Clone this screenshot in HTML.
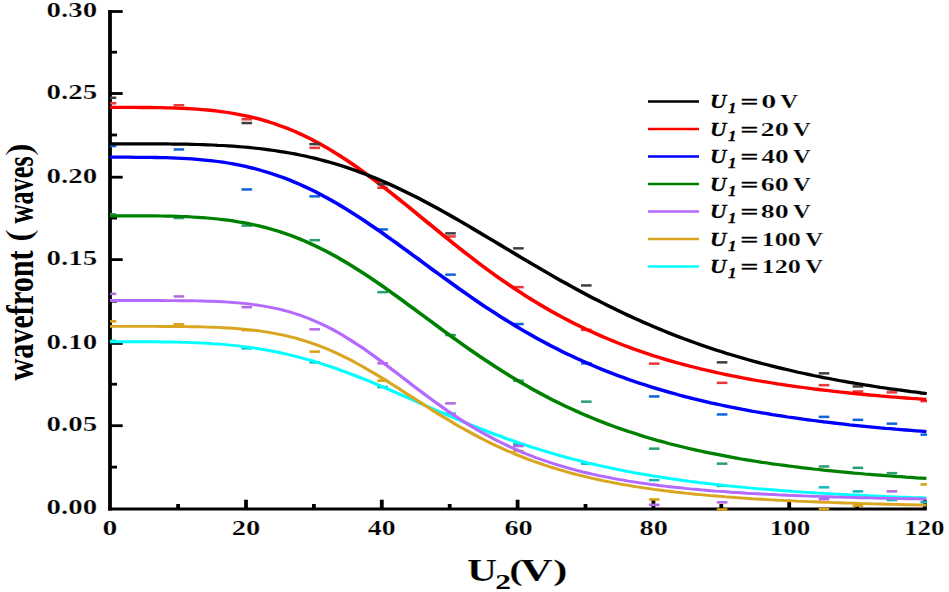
<!DOCTYPE html>
<html><head><meta charset="utf-8"><title>wavefront vs U2</title>
<style>
html,body{margin:0;padding:0;background:#fff;}
body{width:949px;height:592px;overflow:hidden;}
svg{display:block;}
text{font-family:"Liberation Serif","Times New Roman",serif;font-weight:bold;fill:#000;stroke:#fff;stroke-width:0.22px;}
.it{font-style:italic;}
</style></head><body>
<svg width="949" height="592" viewBox="0 0 949 592">
<rect width="949" height="592" fill="#fff"/>
<defs><clipPath id="plot"><rect x="110" y="0" width="817" height="592"/></clipPath></defs>

<g stroke="#000" fill="none"><path d="M110 10 V510.6" stroke-width="3.8"/><path d="M108.1 509.1 H926.8" stroke-width="3"/></g>
<g stroke="#000" stroke-width="3.8" fill="none"><path d="M246.0 509 V499.7"/><path d="M381.8 509 V499.7"/><path d="M517.6 509 V499.7"/><path d="M653.4 509 V499.7"/><path d="M789.2 509 V499.7"/><path d="M924.9 509 V499.7"/><path d="M178.1 509 V504"/><path d="M313.9 509 V504"/><path d="M449.7 509 V504"/><path d="M585.5 509 V504"/><path d="M721.3 509 V504"/><path d="M857.1 509 V504"/></g>
<g stroke="#000" stroke-width="2.8" fill="none" stroke-linecap="butt">
<path d="M110 425.7 H122.7"/>
<path d="M110 343.4 H122.7"/>
<path d="M110 259.6 H122.7"/>
<path d="M110 177.2 H122.7"/>
<path d="M110 93.5 H122.7"/>
<path d="M110 11.5 H122.7"/>
<path d="M110 467.1 H117"/>
<path d="M110 384.2 H117"/>
<path d="M110 301.2 H117"/>
<path d="M110 218.1 H117"/>
<path d="M110 135.0 H117"/>
<path d="M110 52.2 H117"/>
</g>
<g clip-path="url(#plot)">
<g fill="#10b8b8"><rect x="105.7" y="339.6" width="10.6" height="2.5"/><rect x="241.5" y="347.1" width="10.6" height="2.5"/><rect x="309.4" y="361.1" width="10.6" height="2.5"/><rect x="377.3" y="385.8" width="10.6" height="2.5"/><rect x="445.2" y="412.4" width="10.6" height="2.5"/><rect x="513.1" y="442.9" width="10.6" height="2.5"/><rect x="581.0" y="462.4" width="10.6" height="2.5"/><rect x="648.9" y="478.9" width="10.6" height="2.5"/><rect x="716.8" y="484.6" width="10.6" height="2.5"/><rect x="818.7" y="486.1" width="10.6" height="2.5"/><rect x="852.6" y="490.1" width="10.6" height="2.5"/><rect x="886.6" y="498.8" width="10.6" height="2.5"/><rect x="920.5" y="500.9" width="10.6" height="2.5"/></g>
<polyline transform="scale(1.3,1)" fill="none" stroke="#00ffff" stroke-width="2.95" stroke-linejoin="round" points="84.46,341.7 88.41,341.7 92.36,341.7 96.31,341.7 100.26,341.7 104.21,341.7 108.17,341.7 112.12,341.7 116.07,341.8 120.02,341.8 123.97,341.9 127.92,341.9 131.87,342.0 135.82,342.1 139.77,342.3 143.72,342.4 147.67,342.6 151.62,342.8 155.57,343.1 159.52,343.3 163.47,343.7 167.43,344.0 171.38,344.4 175.33,344.9 179.28,345.4 183.23,345.9 187.18,346.6 191.13,347.2 195.08,347.9 199.03,348.7 202.98,349.6 206.93,350.5 210.88,351.5 214.83,352.5 218.78,353.6 222.73,354.8 226.69,356.1 230.64,357.4 234.59,358.8 238.54,360.2 242.49,361.7 246.44,363.3 250.39,365.0 254.34,366.7 258.29,368.4 262.24,370.3 266.19,372.1 270.14,374.1 274.09,376.1 278.04,378.1 281.99,380.1 285.94,382.2 289.90,384.4 293.85,386.5 297.80,388.7 301.75,390.9 305.70,393.2 309.65,395.4 313.60,397.7 317.55,399.9 321.50,402.2 325.45,404.5 329.40,406.7 333.35,409.0 337.30,411.2 341.25,413.4 345.20,415.6 349.16,417.8 353.11,420.0 357.06,422.1 361.01,424.2 364.96,426.3 368.91,428.4 372.86,430.4 376.81,432.4 380.76,434.3 384.71,436.2 388.66,438.1 392.61,439.9 396.56,441.7 400.51,443.5 404.46,445.2 408.42,446.9 412.37,448.5 416.32,450.1 420.27,451.7 424.22,453.2 428.17,454.7 432.12,456.1 436.07,457.5 440.02,458.9 443.97,460.2 447.92,461.5 451.87,462.8 455.82,464.0 459.77,465.2 463.72,466.3 467.67,467.4 471.63,468.5 475.58,469.6 479.53,470.6 483.48,471.6 487.43,472.6 491.38,473.5 495.33,474.4 499.28,475.3 503.23,476.1 507.18,476.9 511.13,477.7 515.08,478.5 519.03,479.3 522.98,480.0 526.93,480.7 530.89,481.4 534.84,482.0 538.79,482.7 542.74,483.3 546.69,483.9 550.64,484.5 554.59,485.0 558.54,485.6 562.49,486.1 566.44,486.6 570.39,487.1 574.34,487.6 578.29,488.1 582.24,488.6 586.19,489.0 590.15,489.4 594.10,489.8 598.05,490.2 602.00,490.6 605.95,491.0 609.90,491.4 613.85,491.7 617.80,492.1 621.75,492.4 625.70,492.8 629.65,493.1 633.60,493.4 637.55,493.7 641.50,494.0 645.45,494.2 649.40,494.5 653.36,494.8 657.31,495.0 661.26,495.3 665.21,495.5 669.16,495.8 673.11,496.0 677.06,496.2 681.01,496.5 684.96,496.7 688.91,496.9 692.86,497.1 696.81,497.3 700.76,497.5 704.71,497.6 708.66,497.8 712.62,498.0"/>
<g fill="#d8a010"><rect x="105.7" y="320.1" width="10.6" height="2.5"/><rect x="173.6" y="323.1" width="10.6" height="2.5"/><rect x="241.5" y="328.9" width="10.6" height="2.5"/><rect x="309.4" y="350.4" width="10.6" height="2.5"/><rect x="377.3" y="379.4" width="10.6" height="2.5"/><rect x="513.1" y="449.8" width="10.6" height="2.5"/><rect x="648.9" y="498.2" width="10.6" height="2.5"/><rect x="716.8" y="508.2" width="10.6" height="2.5"/><rect x="818.7" y="507.9" width="10.6" height="2.5"/><rect x="852.6" y="504.4" width="10.6" height="2.5"/><rect x="920.5" y="483.2" width="10.6" height="2.5"/></g>
<polyline transform="scale(1.3,1)" fill="none" stroke="#daa520" stroke-width="2.9" stroke-linejoin="round" points="84.46,326.4 88.41,326.4 92.36,326.4 96.31,326.4 100.26,326.4 104.21,326.4 108.17,326.4 112.12,326.4 116.07,326.4 120.02,326.4 123.97,326.5 127.92,326.5 131.87,326.5 135.82,326.5 139.77,326.6 143.72,326.6 147.67,326.7 151.62,326.8 155.57,326.9 159.52,327.1 163.47,327.2 167.43,327.4 171.38,327.7 175.33,328.0 179.28,328.3 183.23,328.7 187.18,329.1 191.13,329.6 195.08,330.2 199.03,330.8 202.98,331.6 206.93,332.4 210.88,333.3 214.83,334.3 218.78,335.4 222.73,336.6 226.69,337.9 230.64,339.3 234.59,340.9 238.54,342.6 242.49,344.4 246.44,346.3 250.39,348.3 254.34,350.5 258.29,352.8 262.24,355.2 266.19,357.7 270.14,360.3 274.09,363.1 278.04,365.9 281.99,368.8 285.94,371.8 289.90,374.9 293.85,378.0 297.80,381.2 301.75,384.5 305.70,387.7 309.65,391.0 313.60,394.3 317.55,397.6 321.50,400.9 325.45,404.2 329.40,407.5 333.35,410.8 337.30,414.0 341.25,417.1 345.20,420.2 349.16,423.3 353.11,426.3 357.06,429.2 361.01,432.0 364.96,434.8 368.91,437.5 372.86,440.1 376.81,442.7 380.76,445.2 384.71,447.6 388.66,449.9 392.61,452.1 396.56,454.3 400.51,456.4 404.46,458.4 408.42,460.3 412.37,462.2 416.32,463.9 420.27,465.7 424.22,467.3 428.17,468.9 432.12,470.4 436.07,471.9 440.02,473.3 443.97,474.7 447.92,475.9 451.87,477.2 455.82,478.4 459.77,479.5 463.72,480.6 467.67,481.7 471.63,482.7 475.58,483.6 479.53,484.6 483.48,485.4 487.43,486.3 491.38,487.1 495.33,487.9 499.28,488.6 503.23,489.4 507.18,490.0 511.13,490.7 515.08,491.3 519.03,492.0 522.98,492.5 526.93,493.1 530.89,493.6 534.84,494.2 538.79,494.6 542.74,495.1 546.69,495.6 550.64,496.0 554.59,496.4 558.54,496.9 562.49,497.2 566.44,497.6 570.39,498.0 574.34,498.3 578.29,498.7 582.24,499.0 586.19,499.3 590.15,499.6 594.10,499.9 598.05,500.2 602.00,500.4 605.95,500.7 609.90,500.9 613.85,501.2 617.80,501.4 621.75,501.6 625.70,501.8 629.65,502.0 633.60,502.2 637.55,502.4 641.50,502.6 645.45,502.8 649.40,503.0 653.36,503.1 657.31,503.3 661.26,503.5 665.21,503.6 669.16,503.8 673.11,503.9 677.06,504.0 681.01,504.2 684.96,504.3 688.91,504.4 692.86,504.5 696.81,504.7 700.76,504.8 704.71,504.9 708.66,505.0 712.62,505.1"/>
<g fill="#b26ae2"><rect x="105.7" y="292.6" width="10.6" height="2.5"/><rect x="173.6" y="295.2" width="10.6" height="2.5"/><rect x="241.5" y="305.9" width="10.6" height="2.5"/><rect x="309.4" y="328.1" width="10.6" height="2.5"/><rect x="377.3" y="362.1" width="10.6" height="2.5"/><rect x="445.2" y="402.1" width="10.6" height="2.5"/><rect x="513.1" y="444.8" width="10.6" height="2.5"/><rect x="648.9" y="503.6" width="10.6" height="2.5"/><rect x="716.8" y="501.1" width="10.6" height="2.5"/><rect x="818.7" y="497.9" width="10.6" height="2.5"/><rect x="886.6" y="490.1" width="10.6" height="2.5"/></g>
<polyline transform="scale(1.3,1)" fill="none" stroke="#b469ff" stroke-width="2.9" stroke-linejoin="round" points="84.46,300.5 88.41,300.5 92.36,300.5 96.31,300.5 100.26,300.5 104.21,300.5 108.17,300.5 112.12,300.5 116.07,300.5 120.02,300.5 123.97,300.5 127.92,300.6 131.87,300.6 135.82,300.6 139.77,300.7 143.72,300.7 147.67,300.8 151.62,300.9 155.57,301.0 159.52,301.2 163.47,301.3 167.43,301.5 171.38,301.8 175.33,302.1 179.28,302.5 183.23,302.9 187.18,303.4 191.13,303.9 195.08,304.6 199.03,305.3 202.98,306.1 206.93,307.1 210.88,308.1 214.83,309.2 218.78,310.5 222.73,311.9 226.69,313.5 230.64,315.2 234.59,317.0 238.54,319.0 242.49,321.2 246.44,323.5 250.39,325.9 254.34,328.5 258.29,331.3 262.24,334.2 266.19,337.3 270.14,340.5 274.09,343.8 278.04,347.2 281.99,350.7 285.94,354.4 289.90,358.1 293.85,361.9 297.80,365.7 301.75,369.6 305.70,373.5 309.65,377.5 313.60,381.4 317.55,385.4 321.50,389.3 325.45,393.1 329.40,397.0 333.35,400.7 337.30,404.4 341.25,408.1 345.20,411.7 349.16,415.1 353.11,418.5 357.06,421.8 361.01,425.0 364.96,428.1 368.91,431.1 372.86,434.0 376.81,436.8 380.76,439.5 384.71,442.1 388.66,444.6 392.61,447.0 396.56,449.3 400.51,451.6 404.46,453.7 408.42,455.7 412.37,457.7 416.32,459.5 420.27,461.3 424.22,463.0 428.17,464.6 432.12,466.2 436.07,467.7 440.02,469.1 443.97,470.5 447.92,471.8 451.87,473.0 455.82,474.2 459.77,475.3 463.72,476.4 467.67,477.4 471.63,478.4 475.58,479.3 479.53,480.2 483.48,481.1 487.43,481.9 491.38,482.7 495.33,483.4 499.28,484.2 503.23,484.8 507.18,485.5 511.13,486.1 515.08,486.7 519.03,487.3 522.98,487.8 526.93,488.4 530.89,488.9 534.84,489.3 538.79,489.8 542.74,490.2 546.69,490.7 550.64,491.1 554.59,491.4 558.54,491.8 562.49,492.2 566.44,492.5 570.39,492.8 574.34,493.2 578.29,493.5 582.24,493.7 586.19,494.0 590.15,494.3 594.10,494.5 598.05,494.8 602.00,495.0 605.95,495.3 609.90,495.5 613.85,495.7 617.80,495.9 621.75,496.1 625.70,496.3 629.65,496.4 633.60,496.6 637.55,496.8 641.50,497.0 645.45,497.1 649.40,497.3 653.36,497.4 657.31,497.5 661.26,497.7 665.21,497.8 669.16,497.9 673.11,498.1 677.06,498.2 681.01,498.3 684.96,498.4 688.91,498.5 692.86,498.6 696.81,498.7 700.76,498.8 704.71,498.9 708.66,499.0 712.62,499.1"/>
<g fill="#28a070"><rect x="105.7" y="213.1" width="10.6" height="2.5"/><rect x="173.6" y="216.8" width="10.6" height="2.5"/><rect x="241.5" y="224.4" width="10.6" height="2.5"/><rect x="309.4" y="238.9" width="10.6" height="2.5"/><rect x="377.3" y="290.9" width="10.6" height="2.5"/><rect x="445.2" y="333.8" width="10.6" height="2.5"/><rect x="513.1" y="379.4" width="10.6" height="2.5"/><rect x="581.0" y="400.4" width="10.6" height="2.5"/><rect x="648.9" y="447.4" width="10.6" height="2.5"/><rect x="716.8" y="462.4" width="10.6" height="2.5"/><rect x="818.7" y="465.2" width="10.6" height="2.5"/><rect x="852.6" y="466.6" width="10.6" height="2.5"/><rect x="886.6" y="471.9" width="10.6" height="2.5"/></g>
<polyline transform="scale(1.3,1)" fill="none" stroke="#008000" stroke-width="3.25" stroke-linejoin="round" points="84.46,215.8 88.41,215.8 92.36,215.8 96.31,215.8 100.26,215.8 104.21,215.8 108.17,215.8 112.12,215.8 116.07,215.9 120.02,215.9 123.97,216.0 127.92,216.1 131.87,216.2 135.82,216.3 139.77,216.5 143.72,216.7 147.67,217.0 151.62,217.3 155.57,217.6 159.52,218.0 163.47,218.5 167.43,219.0 171.38,219.6 175.33,220.2 179.28,220.9 183.23,221.8 187.18,222.6 191.13,223.6 195.08,224.7 199.03,225.9 202.98,227.1 206.93,228.5 210.88,230.0 214.83,231.6 218.78,233.3 222.73,235.1 226.69,237.0 230.64,239.0 234.59,241.2 238.54,243.5 242.49,245.8 246.44,248.3 250.39,250.9 254.34,253.6 258.29,256.4 262.24,259.4 266.19,262.4 270.14,265.5 274.09,268.7 278.04,272.0 281.99,275.3 285.94,278.7 289.90,282.2 293.85,285.8 297.80,289.4 301.75,293.1 305.70,296.8 309.65,300.5 313.60,304.3 317.55,308.0 321.50,311.8 325.45,315.6 329.40,319.4 333.35,323.2 337.30,327.0 341.25,330.8 345.20,334.5 349.16,338.2 353.11,341.9 357.06,345.6 361.01,349.2 364.96,352.8 368.91,356.3 372.86,359.7 376.81,363.1 380.76,366.5 384.71,369.8 388.66,373.0 392.61,376.2 396.56,379.3 400.51,382.4 404.46,385.3 408.42,388.3 412.37,391.1 416.32,393.9 420.27,396.6 424.22,399.3 428.17,401.8 432.12,404.4 436.07,406.8 440.02,409.2 443.97,411.5 447.92,413.8 451.87,416.0 455.82,418.1 459.77,420.2 463.72,422.2 467.67,424.2 471.63,426.1 475.58,427.9 479.53,429.7 483.48,431.5 487.43,433.1 491.38,434.8 495.33,436.4 499.28,437.9 503.23,439.4 507.18,440.9 511.13,442.3 515.08,443.7 519.03,445.0 522.98,446.3 526.93,447.5 530.89,448.7 534.84,449.9 538.79,451.0 542.74,452.1 546.69,453.2 550.64,454.2 554.59,455.2 558.54,456.2 562.49,457.2 566.44,458.1 570.39,459.0 574.34,459.8 578.29,460.7 582.24,461.5 586.19,462.3 590.15,463.0 594.10,463.8 598.05,464.5 602.00,465.2 605.95,465.9 609.90,466.5 613.85,467.2 617.80,467.8 621.75,468.4 625.70,469.0 629.65,469.5 633.60,470.1 637.55,470.6 641.50,471.1 645.45,471.7 649.40,472.1 653.36,472.6 657.31,473.1 661.26,473.5 665.21,474.0 669.16,474.4 673.11,474.8 677.06,475.2 681.01,475.6 684.96,476.0 688.91,476.4 692.86,476.7 696.81,477.1 700.76,477.4 704.71,477.8 708.66,478.1 712.62,478.4"/>
<g fill="#1064d8"><rect x="105.7" y="144.8" width="10.6" height="2.5"/><rect x="173.6" y="148.2" width="10.6" height="2.5"/><rect x="241.5" y="188.2" width="10.6" height="2.5"/><rect x="309.4" y="195.1" width="10.6" height="2.5"/><rect x="377.3" y="228.2" width="10.6" height="2.5"/><rect x="445.2" y="273.4" width="10.6" height="2.5"/><rect x="513.1" y="322.8" width="10.6" height="2.5"/><rect x="581.0" y="362.1" width="10.6" height="2.5"/><rect x="648.9" y="395.2" width="10.6" height="2.5"/><rect x="716.8" y="413.2" width="10.6" height="2.5"/><rect x="818.7" y="415.6" width="10.6" height="2.5"/><rect x="852.6" y="418.6" width="10.6" height="2.5"/><rect x="886.6" y="422.4" width="10.6" height="2.5"/><rect x="920.5" y="433.4" width="10.6" height="2.5"/></g>
<polyline transform="scale(1.3,1)" fill="none" stroke="#0000ff" stroke-width="3.3" stroke-linejoin="round" points="84.46,157.2 88.41,157.2 92.36,157.2 96.31,157.2 100.26,157.2 104.21,157.3 108.17,157.3 112.12,157.3 116.07,157.4 120.02,157.5 123.97,157.6 127.92,157.7 131.87,157.9 135.82,158.1 139.77,158.3 143.72,158.6 147.67,158.9 151.62,159.3 155.57,159.8 159.52,160.3 163.47,160.8 167.43,161.5 171.38,162.2 175.33,163.0 179.28,163.9 183.23,164.9 187.18,165.9 191.13,167.1 195.08,168.3 199.03,169.7 202.98,171.2 206.93,172.7 210.88,174.4 214.83,176.2 218.78,178.1 222.73,180.0 226.69,182.2 230.64,184.4 234.59,186.7 238.54,189.1 242.49,191.7 246.44,194.3 250.39,197.1 254.34,199.9 258.29,202.8 262.24,205.9 266.19,209.0 270.14,212.2 274.09,215.5 278.04,218.8 281.99,222.2 285.94,225.7 289.90,229.2 293.85,232.8 297.80,236.5 301.75,240.1 305.70,243.8 309.65,247.6 313.60,251.3 317.55,255.1 321.50,258.8 325.45,262.6 329.40,266.4 333.35,270.2 337.30,273.9 341.25,277.6 345.20,281.3 349.16,285.0 353.11,288.7 357.06,292.3 361.01,295.9 364.96,299.4 368.91,302.9 372.86,306.4 376.81,309.7 380.76,313.1 384.71,316.4 388.66,319.6 392.61,322.8 396.56,325.9 400.51,329.0 404.46,332.0 408.42,334.9 412.37,337.8 416.32,340.6 420.27,343.4 424.22,346.1 428.17,348.7 432.12,351.3 436.07,353.8 440.02,356.2 443.97,358.6 447.92,360.9 451.87,363.2 455.82,365.4 459.77,367.6 463.72,369.7 467.67,371.7 471.63,373.7 475.58,375.7 479.53,377.5 483.48,379.4 487.43,381.2 491.38,382.9 495.33,384.6 499.28,386.3 503.23,387.9 507.18,389.4 511.13,390.9 515.08,392.4 519.03,393.8 522.98,395.2 526.93,396.6 530.89,397.9 534.84,399.2 538.79,400.4 542.74,401.6 546.69,402.8 550.64,403.9 554.59,405.0 558.54,406.1 562.49,407.2 566.44,408.2 570.39,409.2 574.34,410.1 578.29,411.1 582.24,412.0 586.19,412.9 590.15,413.7 594.10,414.6 598.05,415.4 602.00,416.2 605.95,417.0 609.90,417.7 613.85,418.4 617.80,419.2 621.75,419.8 625.70,420.5 629.65,421.2 633.60,421.8 637.55,422.4 641.50,423.0 645.45,423.6 649.40,424.2 653.36,424.8 657.31,425.3 661.26,425.8 665.21,426.3 669.16,426.8 673.11,427.3 677.06,427.8 681.01,428.3 684.96,428.7 688.91,429.2 692.86,429.6 696.81,430.0 700.76,430.4 704.71,430.8 708.66,431.2 712.62,431.6"/>
<g fill="#e8383a"><rect x="105.7" y="102.0" width="10.6" height="2.5"/><rect x="173.6" y="104.0" width="10.6" height="2.5"/><rect x="241.5" y="118.0" width="10.6" height="2.5"/><rect x="309.4" y="146.6" width="10.6" height="2.5"/><rect x="377.3" y="186.6" width="10.6" height="2.5"/><rect x="445.2" y="235.2" width="10.6" height="2.5"/><rect x="513.1" y="285.9" width="10.6" height="2.5"/><rect x="581.0" y="328.6" width="10.6" height="2.5"/><rect x="648.9" y="362.4" width="10.6" height="2.5"/><rect x="716.8" y="381.6" width="10.6" height="2.5"/><rect x="818.7" y="383.9" width="10.6" height="2.5"/><rect x="852.6" y="390.2" width="10.6" height="2.5"/><rect x="886.6" y="391.1" width="10.6" height="2.5"/><rect x="920.5" y="399.9" width="10.6" height="2.5"/></g>
<polyline transform="scale(1.3,1)" fill="none" stroke="#ff0000" stroke-width="3.3" stroke-linejoin="round" points="84.46,107.4 88.41,107.4 92.36,107.4 96.31,107.4 100.26,107.4 104.21,107.4 108.17,107.5 112.12,107.5 116.07,107.5 120.02,107.6 123.97,107.7 127.92,107.8 131.87,107.9 135.82,108.1 139.77,108.3 143.72,108.5 147.67,108.8 151.62,109.2 155.57,109.6 159.52,110.0 163.47,110.5 167.43,111.1 171.38,111.8 175.33,112.5 179.28,113.4 183.23,114.3 187.18,115.3 191.13,116.4 195.08,117.6 199.03,118.9 202.98,120.4 206.93,121.9 210.88,123.6 214.83,125.4 218.78,127.3 222.73,129.3 226.69,131.4 230.64,133.7 234.59,136.1 238.54,138.7 242.49,141.3 246.44,144.1 250.39,147.0 254.34,150.0 258.29,153.2 262.24,156.4 266.19,159.8 270.14,163.2 274.09,166.8 278.04,170.4 281.99,174.2 285.94,178.0 289.90,181.8 293.85,185.8 297.80,189.8 301.75,193.9 305.70,198.0 309.65,202.1 313.60,206.2 317.55,210.4 321.50,214.6 325.45,218.8 329.40,223.0 333.35,227.2 337.30,231.4 341.25,235.6 345.20,239.7 349.16,243.8 353.11,247.9 357.06,252.0 361.01,255.9 364.96,259.9 368.91,263.8 372.86,267.6 376.81,271.4 380.76,275.1 384.71,278.7 388.66,282.3 392.61,285.8 396.56,289.3 400.51,292.6 404.46,295.9 408.42,299.1 412.37,302.3 416.32,305.4 420.27,308.4 424.22,311.3 428.17,314.2 432.12,317.0 436.07,319.7 440.02,322.3 443.97,324.9 447.92,327.4 451.87,329.8 455.82,332.2 459.77,334.5 463.72,336.8 467.67,338.9 471.63,341.0 475.58,343.1 479.53,345.1 483.48,347.0 487.43,348.9 491.38,350.7 495.33,352.5 499.28,354.2 503.23,355.9 507.18,357.5 511.13,359.1 515.08,360.6 519.03,362.1 522.98,363.5 526.93,364.9 530.89,366.2 534.84,367.5 538.79,368.8 542.74,370.0 546.69,371.2 550.64,372.4 554.59,373.5 558.54,374.6 562.49,375.7 566.44,376.7 570.39,377.7 574.34,378.6 578.29,379.6 582.24,380.5 586.19,381.4 590.15,382.2 594.10,383.0 598.05,383.9 602.00,384.6 605.95,385.4 609.90,386.1 613.85,386.8 617.80,387.5 621.75,388.2 625.70,388.9 629.65,389.5 633.60,390.1 637.55,390.7 641.50,391.3 645.45,391.9 649.40,392.4 653.36,393.0 657.31,393.5 661.26,394.0 665.21,394.5 669.16,395.0 673.11,395.4 677.06,395.9 681.01,396.3 684.96,396.8 688.91,397.2 692.86,397.6 696.81,398.0 700.76,398.4 704.71,398.7 708.66,399.1 712.62,399.5"/>
<g fill="#404040"><rect x="105.7" y="96.5" width="10.6" height="2.5"/><rect x="241.5" y="121.8" width="10.6" height="2.5"/><rect x="309.4" y="142.9" width="10.6" height="2.5"/><rect x="377.3" y="182.9" width="10.6" height="2.5"/><rect x="445.2" y="232.1" width="10.6" height="2.5"/><rect x="513.1" y="247.1" width="10.6" height="2.5"/><rect x="581.0" y="284.2" width="10.6" height="2.5"/><rect x="716.8" y="361.1" width="10.6" height="2.5"/><rect x="818.7" y="372.1" width="10.6" height="2.5"/><rect x="852.6" y="385.2" width="10.6" height="2.5"/><rect x="886.6" y="387.8" width="10.6" height="2.5"/><rect x="920.5" y="392.2" width="10.6" height="2.5"/></g>
<polyline transform="scale(1.3,1)" fill="none" stroke="#000000" stroke-width="3.25" stroke-linejoin="round" points="84.46,143.8 88.41,143.8 92.36,143.8 96.31,143.8 100.26,143.8 104.21,143.8 108.17,143.8 112.12,143.8 116.07,143.8 120.02,143.9 123.97,143.9 127.92,143.9 131.87,144.0 135.82,144.0 139.77,144.1 143.72,144.2 147.67,144.3 151.62,144.5 155.57,144.6 159.52,144.8 163.47,145.0 167.43,145.3 171.38,145.5 175.33,145.8 179.28,146.2 183.23,146.6 187.18,147.0 191.13,147.4 195.08,148.0 199.03,148.5 202.98,149.1 206.93,149.8 210.88,150.5 214.83,151.3 218.78,152.1 222.73,153.0 226.69,153.9 230.64,155.0 234.59,156.0 238.54,157.2 242.49,158.4 246.44,159.7 250.39,161.1 254.34,162.5 258.29,164.0 262.24,165.6 266.19,167.3 270.14,169.0 274.09,170.8 278.04,172.7 281.99,174.6 285.94,176.7 289.90,178.8 293.85,180.9 297.80,183.2 301.75,185.5 305.70,187.8 309.65,190.3 313.60,192.8 317.55,195.3 321.50,197.9 325.45,200.6 329.40,203.3 333.35,206.1 337.30,208.9 341.25,211.8 345.20,214.6 349.16,217.6 353.11,220.5 357.06,223.5 361.01,226.5 364.96,229.6 368.91,232.6 372.86,235.7 376.81,238.7 380.76,241.8 384.71,244.9 388.66,248.0 392.61,251.0 396.56,254.1 400.51,257.2 404.46,260.2 408.42,263.3 412.37,266.3 416.32,269.3 420.27,272.3 424.22,275.2 428.17,278.2 432.12,281.1 436.07,283.9 440.02,286.8 443.97,289.6 447.92,292.3 451.87,295.1 455.82,297.8 459.77,300.4 463.72,303.0 467.67,305.6 471.63,308.1 475.58,310.6 479.53,313.1 483.48,315.5 487.43,317.9 491.38,320.2 495.33,322.5 499.28,324.7 503.23,326.9 507.18,329.0 511.13,331.1 515.08,333.2 519.03,335.2 522.98,337.2 526.93,339.1 530.89,341.0 534.84,342.9 538.79,344.7 542.74,346.5 546.69,348.2 550.64,349.9 554.59,351.5 558.54,353.2 562.49,354.7 566.44,356.3 570.39,357.8 574.34,359.3 578.29,360.7 582.24,362.1 586.19,363.5 590.15,364.8 594.10,366.1 598.05,367.4 602.00,368.6 605.95,369.8 609.90,371.0 613.85,372.2 617.80,373.3 621.75,374.4 625.70,375.5 629.65,376.5 633.60,377.6 637.55,378.5 641.50,379.5 645.45,380.5 649.40,381.4 653.36,382.3 657.31,383.2 661.26,384.0 665.21,384.9 669.16,385.7 673.11,386.5 677.06,387.3 681.01,388.0 684.96,388.8 688.91,389.5 692.86,390.2 696.81,390.9 700.76,391.6 704.71,392.2 708.66,392.9 712.62,393.5"/>
</g>
<g font-size="20">
<text x="46.6" y="514.4" textLength="50.6" lengthAdjust="spacingAndGlyphs">0.00</text>
<text x="46.6" y="431.0" textLength="50.6" lengthAdjust="spacingAndGlyphs">0.05</text>
<text x="46.6" y="348.7" textLength="50.6" lengthAdjust="spacingAndGlyphs">0.10</text>
<text x="46.6" y="264.9" textLength="50.6" lengthAdjust="spacingAndGlyphs">0.15</text>
<text x="46.6" y="182.5" textLength="50.6" lengthAdjust="spacingAndGlyphs">0.20</text>
<text x="46.6" y="98.8" textLength="50.6" lengthAdjust="spacingAndGlyphs">0.25</text>
<text x="46.6" y="16.8" textLength="50.6" lengthAdjust="spacingAndGlyphs">0.30</text>
</g>
<text transform="translate(102.57,535.20) scale(1.472,1)" font-size="20.2">0</text>
<text transform="translate(231.65,535.20) scale(1.415,1)" font-size="20.2">20</text>
<text transform="translate(367.87,535.20) scale(1.373,1)" font-size="20.2">40</text>
<text transform="translate(504.38,535.20) scale(1.403,1)" font-size="20.2">60</text>
<text transform="translate(639.61,535.20) scale(1.402,1)" font-size="20.2">80</text>
<text transform="translate(769.73,535.20) scale(1.340,1)" font-size="20.2">100</text>
<text transform="translate(903.93,535.20) scale(1.340,1)" font-size="20.2">120</text>
<text transform="translate(466.96,580.70) scale(1.335,1)" font-size="31.2">U</text>
<text transform="translate(495.27,588.90) scale(1.448,1)" font-size="21.8" style="stroke:none">2</text>
<text transform="translate(509.22,579.90) scale(1.373,1)" font-size="29.5">(</text>
<text transform="translate(520.30,580.70) scale(1.438,1)" font-size="31.2">V</text>
<text transform="translate(552.99,579.90) scale(1.478,1)" font-size="29.5">)</text>
<text transform="translate(32.90,380.49) rotate(-90) scale(1.006,1.250)" font-size="30" style="stroke:none">wavefront</text>
<text transform="translate(31.30,242.83) rotate(-90) scale(1.467,1.243)" font-size="30" style="stroke-width:0.9px">(</text>
<text transform="translate(32.90,223.58) rotate(-90) scale(0.878,1.250)" font-size="30" style="stroke:none">waves</text>
<text transform="translate(31.30,156.92) rotate(-90) scale(1.467,1.243)" font-size="30" style="stroke-width:0.9px">)</text>
<g>
<path d="M648 101.5 H699" stroke="#000000" stroke-width="2.6" fill="none"/>
<text class="it" transform="translate(709.95,108.30) scale(1.157,1)" font-size="19.6" style="stroke:#000;stroke-width:0.3px">U</text>
<text class="it" transform="translate(728.01,113.00) scale(1.076,1)" font-size="15.6" style="stroke:#000;stroke-width:0.3px">1</text>
<text transform="translate(740.44,108.30) scale(1.602,1)" font-size="19.6" style="stroke:#000;stroke-width:0.45px">=</text>
<text transform="translate(761.15,108.30) scale(1.541,1)" font-size="19.6">0</text>
<text transform="translate(780.32,108.30) scale(1.254,1)" font-size="19.6">V</text>
<path d="M648 129.0 H699" stroke="#ff0000" stroke-width="2.6" fill="none"/>
<text class="it" transform="translate(709.95,135.80) scale(1.157,1)" font-size="19.6" style="stroke:#000;stroke-width:0.3px">U</text>
<text class="it" transform="translate(728.01,140.50) scale(1.076,1)" font-size="15.6" style="stroke:#000;stroke-width:0.3px">1</text>
<text transform="translate(740.44,135.80) scale(1.602,1)" font-size="19.6" style="stroke:#000;stroke-width:0.45px">=</text>
<text transform="translate(760.51,135.80) scale(1.442,1)" font-size="19.6">20</text>
<text transform="translate(792.92,135.80) scale(1.254,1)" font-size="19.6">V</text>
<path d="M648 156.5 H699" stroke="#0000ff" stroke-width="2.6" fill="none"/>
<text class="it" transform="translate(709.95,163.30) scale(1.157,1)" font-size="19.6" style="stroke:#000;stroke-width:0.3px">U</text>
<text class="it" transform="translate(728.01,168.00) scale(1.076,1)" font-size="15.6" style="stroke:#000;stroke-width:0.3px">1</text>
<text transform="translate(740.44,163.30) scale(1.602,1)" font-size="19.6" style="stroke:#000;stroke-width:0.45px">=</text>
<text transform="translate(761.33,163.30) scale(1.399,1)" font-size="19.6">40</text>
<text transform="translate(792.92,163.30) scale(1.254,1)" font-size="19.6">V</text>
<path d="M648 184.0 H699" stroke="#008000" stroke-width="2.6" fill="none"/>
<text class="it" transform="translate(709.95,190.80) scale(1.157,1)" font-size="19.6" style="stroke:#000;stroke-width:0.3px">U</text>
<text class="it" transform="translate(728.01,195.50) scale(1.076,1)" font-size="15.6" style="stroke:#000;stroke-width:0.3px">1</text>
<text transform="translate(740.44,190.80) scale(1.602,1)" font-size="19.6" style="stroke:#000;stroke-width:0.45px">=</text>
<text transform="translate(760.74,190.80) scale(1.430,1)" font-size="19.6">60</text>
<text transform="translate(792.92,190.80) scale(1.254,1)" font-size="19.6">V</text>
<path d="M648 211.5 H699" stroke="#b469ff" stroke-width="2.6" fill="none"/>
<text class="it" transform="translate(709.95,218.30) scale(1.157,1)" font-size="19.6" style="stroke:#000;stroke-width:0.3px">U</text>
<text class="it" transform="translate(728.01,223.00) scale(1.076,1)" font-size="15.6" style="stroke:#000;stroke-width:0.3px">1</text>
<text transform="translate(740.44,218.30) scale(1.602,1)" font-size="19.6" style="stroke:#000;stroke-width:0.45px">=</text>
<text transform="translate(760.77,218.30) scale(1.428,1)" font-size="19.6">80</text>
<text transform="translate(792.92,218.30) scale(1.254,1)" font-size="19.6">V</text>
<path d="M648 239.0 H699" stroke="#daa520" stroke-width="2.6" fill="none"/>
<text class="it" transform="translate(709.95,245.80) scale(1.157,1)" font-size="19.6" style="stroke:#000;stroke-width:0.3px">U</text>
<text class="it" transform="translate(728.01,250.50) scale(1.076,1)" font-size="15.6" style="stroke:#000;stroke-width:0.3px">1</text>
<text transform="translate(740.44,245.80) scale(1.602,1)" font-size="19.6" style="stroke:#000;stroke-width:0.45px">=</text>
<text transform="translate(761.60,245.80) scale(1.340,1)" font-size="19.6">100</text>
<text transform="translate(805.22,245.80) scale(1.254,1)" font-size="19.6">V</text>
<path d="M648 266.5 H699" stroke="#00ffff" stroke-width="2.6" fill="none"/>
<text class="it" transform="translate(709.95,273.30) scale(1.157,1)" font-size="19.6" style="stroke:#000;stroke-width:0.3px">U</text>
<text class="it" transform="translate(728.01,278.00) scale(1.076,1)" font-size="15.6" style="stroke:#000;stroke-width:0.3px">1</text>
<text transform="translate(740.44,273.30) scale(1.602,1)" font-size="19.6" style="stroke:#000;stroke-width:0.45px">=</text>
<text transform="translate(761.60,273.30) scale(1.340,1)" font-size="19.6">120</text>
<text transform="translate(805.22,273.30) scale(1.254,1)" font-size="19.6">V</text>
</g>
</svg></body></html>
